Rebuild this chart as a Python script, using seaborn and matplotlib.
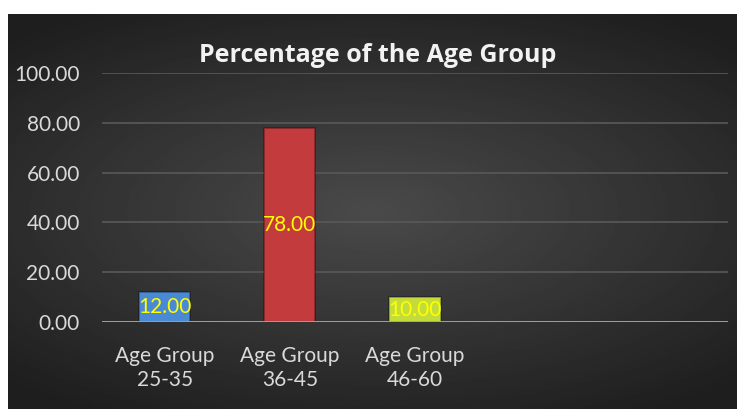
import numpy as np
import matplotlib.pyplot as plt
import seaborn as sns
import pandas as pd

# chart data
groups = ['Age Group\n25-35', 'Age Group\n36-45', 'Age Group\n46-60']
percentages = [12.00, 78.00, 10.00]
bar_colors = ['#4a8ad4', '#c33b3c', '#c4dc3a']
y_ticks = [0, 20, 40, 60, 80, 100]


def draw_background(fig):
    # dark radial gradient panel, leaving a thin white margin top and left
    bg = fig.add_axes([8 / 737, 0, 1 - 8 / 737, 1 - 14 / 409])
    yy, xx = np.mgrid[-1:1:300j, -1:1:500j]
    r = np.sqrt((xx * 0.9) ** 2 + (yy * 1.1) ** 2)
    shade = np.clip(0.29 - 0.13 * r, 0.12, 0.3)
    bg.imshow(shade, cmap='gray', vmin=0, vmax=1, aspect='auto',
              extent=[0, 1, 0, 1])
    bg.set_axis_off()


def plot_chart():
    sns.set_style('dark')
    plt.rcParams['font.family'] = ['Lato', 'DejaVu Sans']

    fig = plt.figure(figsize=(7.37, 4.09), dpi=100, facecolor='white')
    draw_background(fig)

    ax = fig.add_axes([102 / 737, 87 / 409, 626 / 737, 249 / 409])
    ax.set_facecolor('none')

    df = pd.DataFrame({'group': groups, 'pct': percentages})
    sns.barplot(data=df, x='group', y='pct', hue='group', palette=bar_colors,
                width=0.41, legend=False, ax=ax, saturation=1,
                edgecolor='#00000055', linewidth=1.2, zorder=3)

    for container in ax.containers:
        ax.bar_label(container, fmt='%.2f', label_type='center',
                     color='#ffff00', fontsize=15, zorder=4)

    ax.set_xlim(-0.5, 4.5)
    ax.set_ylim(0, 100)
    ax.set_yticks(y_ticks)
    ax.set_yticklabels([f'{v:.2f}' for v in y_ticks])
    ax.yaxis.grid(True, color='#595959', linewidth=1.2, zorder=0)
    ax.xaxis.grid(False)
    ax.axhline(0, color='#a6a6a6', linewidth=2, zorder=5)

    for side in ['top', 'right', 'left', 'bottom']:
        ax.spines[side].set_visible(False)
    ax.tick_params(axis='both', colors='#d9d9d9', labelsize=15, length=0)
    ax.tick_params(axis='y', pad=16)
    ax.tick_params(axis='x', pad=17)
    ax.set_xlabel('')
    ax.set_ylabel('')
    for lbl in ax.get_xticklabels():
        lbl.set_linespacing(1.25)

    fig.text(0.513, 1 - 55 / 409, 'Percentage of the Age Group',
             ha='center', va='center', color='#f2f2f2', fontsize=18,
             fontweight='bold', family=['Open Sans', 'DejaVu Sans'])

    fig.savefig('out.png', dpi=100)
    plt.close(fig)


def main():
    plot_chart()


if __name__ == '__main__':
    main()
